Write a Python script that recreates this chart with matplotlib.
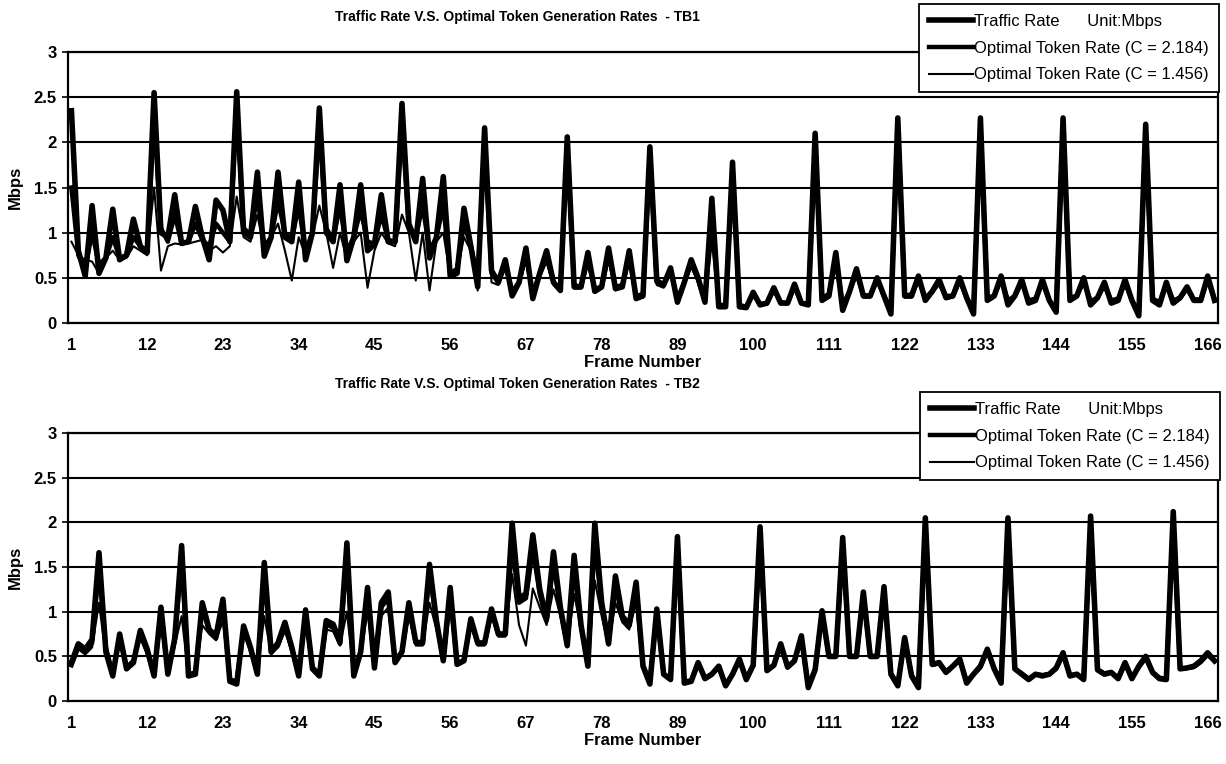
import matplotlib
matplotlib.use("Agg")
import matplotlib.pyplot as plt
import numpy as np

W, H = 1226, 764

frame_ticks = [1, 12, 23, 34, 45, 56, 67, 78, 89, 100, 111, 122, 133, 144, 155, 166]
y_ticks = [0, 0.5, 1, 1.5, 2, 2.5, 3]
y_tick_labels = ["0", "0.5", "1", "1.5", "2", "2.5", "3"]
series_labels = ["Traffic Rate      Unit:Mbps",
                 "Optimal Token Rate (C = 2.184)",
                 "Optimal Token Rate (C = 1.456)"]

# TB1 -- frames 1..167
tb1_traffic = [
    2.35, 0.80, 0.52, 1.30, 0.55, 0.72, 1.26, 0.70, 0.75, 1.15, 0.85, 0.78,
    2.55, 1.00, 0.95, 1.42, 0.88, 0.90, 1.29, 0.95, 0.70, 1.36, 1.25, 0.90,
    2.56, 1.00, 0.95, 1.67, 0.74, 0.95, 1.67, 0.95, 0.90, 1.56, 0.70, 1.00,
    2.38, 1.00, 0.90, 1.53, 0.69, 0.95, 1.53, 0.80, 0.87, 1.42, 0.90, 0.90,
    2.43, 1.10, 0.90, 1.60, 0.72, 0.95, 1.62, 0.52, 0.55, 1.27, 0.85, 0.40,
    2.16, 0.58, 0.45, 0.70, 0.30, 0.45, 0.83, 0.27, 0.55, 0.80, 0.45, 0.36,
    2.06, 0.40, 0.40, 0.78, 0.35, 0.40, 0.83, 0.38, 0.40, 0.80, 0.27, 0.30,
    1.95, 0.47, 0.42, 0.61, 0.23, 0.45, 0.70, 0.50, 0.23, 1.38, 0.18, 0.18,
    1.78, 0.18, 0.17, 0.34, 0.20, 0.22, 0.39, 0.22, 0.22, 0.43, 0.22, 0.20,
    2.10, 0.25, 0.30, 0.78, 0.14, 0.35, 0.60, 0.30, 0.30, 0.50, 0.30, 0.10,
    2.27, 0.30, 0.30, 0.52, 0.25, 0.35, 0.48, 0.28, 0.30, 0.50, 0.28, 0.10,
    2.27, 0.25, 0.30, 0.52, 0.20, 0.30, 0.48, 0.22, 0.25, 0.48, 0.25, 0.12,
    2.27, 0.25, 0.30, 0.50, 0.20, 0.28, 0.45, 0.22, 0.25, 0.48, 0.25, 0.08,
    2.20, 0.25, 0.20, 0.45, 0.22, 0.28, 0.40, 0.25, 0.25, 0.52, 0.25,
]
tb1_token_hi = [
    1.50, 0.75, 0.60, 1.00, 0.65, 0.72, 0.95, 0.72, 0.75, 0.95, 0.85, 0.80,
    2.30, 1.05, 0.90, 1.20, 0.88, 0.90, 1.10, 0.92, 0.85, 1.10, 1.00, 0.90,
    2.40, 1.05, 0.98, 1.40, 0.85, 0.95, 1.35, 1.00, 0.92, 1.30, 0.80, 1.00,
    2.20, 1.05, 0.92, 1.30, 0.80, 0.95, 1.25, 0.90, 0.88, 1.20, 0.92, 0.90,
    2.20, 1.05, 0.95, 1.30, 0.80, 0.95, 1.30, 0.55, 0.60, 1.10, 0.85, 0.50,
    2.00, 0.55, 0.48, 0.65, 0.35, 0.45, 0.75, 0.32, 0.55, 0.72, 0.45, 0.38,
    1.95, 0.42, 0.40, 0.70, 0.38, 0.40, 0.75, 0.40, 0.42, 0.72, 0.30, 0.32,
    1.85, 0.45, 0.42, 0.58, 0.26, 0.45, 0.66, 0.48, 0.25, 1.30, 0.20, 0.20,
    1.70, 0.20, 0.18, 0.32, 0.21, 0.22, 0.37, 0.23, 0.22, 0.40, 0.22, 0.21,
    2.00, 0.28, 0.32, 0.70, 0.20, 0.35, 0.55, 0.30, 0.30, 0.48, 0.30, 0.15,
    2.15, 0.30, 0.32, 0.48, 0.28, 0.35, 0.45, 0.30, 0.30, 0.47, 0.28, 0.15,
    2.15, 0.28, 0.30, 0.48, 0.25, 0.30, 0.45, 0.25, 0.27, 0.45, 0.25, 0.16,
    2.15, 0.28, 0.30, 0.46, 0.24, 0.28, 0.42, 0.25, 0.27, 0.45, 0.25, 0.12,
    2.10, 0.27, 0.23, 0.42, 0.25, 0.28, 0.38, 0.26, 0.26, 0.48, 0.26,
]
tb1_token_lo = [
    0.90, 0.75, 0.70, 0.68, 0.55, 0.72, 0.80, 0.70, 0.72, 0.85, 0.80, 0.75,
    1.50, 0.58, 0.85, 0.88, 0.87, 0.88, 0.90, 0.92, 0.80, 0.85, 0.78, 0.85,
    1.40, 0.95, 0.90, 1.20, 0.80, 0.95, 1.10, 0.80, 0.47, 0.95, 0.75, 0.95,
    1.30, 1.00, 0.61, 1.00, 0.70, 0.90, 1.00, 0.39, 0.80, 1.00, 0.88, 0.85,
    1.20, 1.00, 0.47, 1.00, 0.36, 0.90, 1.00, 0.52, 0.55, 0.95, 0.80, 0.36,
    1.80, 0.45, 0.42, 0.60, 0.33, 0.42, 0.70, 0.27, 0.50, 0.68, 0.42, 0.36,
    1.80, 0.38, 0.38, 0.65, 0.35, 0.38, 0.70, 0.36, 0.40, 0.68, 0.27, 0.28,
    1.70, 0.42, 0.39, 0.55, 0.23, 0.43, 0.62, 0.45, 0.23, 0.90, 0.18, 0.18,
    1.60, 0.18, 0.17, 0.30, 0.20, 0.21, 0.35, 0.22, 0.21, 0.38, 0.21, 0.20,
    1.90, 0.25, 0.28, 0.65, 0.14, 0.33, 0.52, 0.28, 0.28, 0.45, 0.28, 0.10,
    2.00, 0.28, 0.28, 0.45, 0.25, 0.33, 0.42, 0.27, 0.28, 0.44, 0.26, 0.10,
    2.00, 0.25, 0.28, 0.45, 0.20, 0.28, 0.42, 0.22, 0.25, 0.43, 0.24, 0.12,
    2.00, 0.25, 0.28, 0.44, 0.20, 0.26, 0.40, 0.22, 0.25, 0.42, 0.24, 0.08,
    1.95, 0.24, 0.20, 0.40, 0.22, 0.26, 0.36, 0.24, 0.24, 0.45, 0.24,
]

# TB2 -- frames 1..167
tb2_traffic = [
    0.43, 0.64, 0.58, 0.69, 1.66, 0.55, 0.28, 0.75, 0.36, 0.43, 0.79, 0.58,
    0.28, 1.05, 0.30, 0.70, 1.74, 0.28, 0.30, 1.10, 0.80, 0.73, 1.14, 0.22,
    0.19, 0.84, 0.60, 0.30, 1.55, 0.55, 0.65, 0.88, 0.60, 0.28, 1.02, 0.36,
    0.28, 0.90, 0.86, 0.66, 1.77, 0.28, 0.55, 1.27, 0.37, 1.10, 1.22, 0.43,
    0.55, 1.10, 0.66, 0.65, 1.53, 0.90, 0.45, 1.27, 0.41, 0.45, 0.92, 0.65,
    0.65, 1.03, 0.75, 0.75, 1.99, 1.15, 1.20, 1.86, 1.25, 0.92, 1.67, 1.05,
    0.62, 1.63, 0.85, 0.39, 1.99, 1.10, 0.64, 1.40, 0.95, 0.85, 1.33, 0.39,
    0.19, 1.03, 0.30, 0.24, 1.84, 0.20, 0.22, 0.43, 0.25, 0.30, 0.39, 0.17,
    0.30, 0.47, 0.24, 0.40, 1.95, 0.34, 0.40, 0.64, 0.38, 0.45, 0.73, 0.15,
    0.35, 1.01, 0.50, 0.50, 1.83, 0.50, 0.50, 1.22, 0.50, 0.50, 1.28, 0.30,
    0.17, 0.71, 0.28, 0.15, 2.05, 0.41, 0.43, 0.32, 0.39, 0.47, 0.20, 0.30,
    0.39, 0.58, 0.36, 0.20, 2.05, 0.36, 0.30, 0.24, 0.30, 0.28, 0.30, 0.37,
    0.54, 0.28, 0.30, 0.24, 2.07, 0.35, 0.30, 0.32, 0.25, 0.43, 0.25, 0.39,
    0.50, 0.32, 0.25, 0.24, 2.12, 0.36, 0.37, 0.39, 0.45, 0.54, 0.45,
]
tb2_token_hi = [
    0.40, 0.60, 0.55, 0.65, 1.50, 0.60, 0.30, 0.72, 0.38, 0.45, 0.75, 0.55,
    0.30, 1.00, 0.32, 0.68, 1.60, 0.30, 0.32, 1.05, 0.78, 0.70, 1.08, 0.24,
    0.22, 0.80, 0.58, 0.32, 1.45, 0.55, 0.62, 0.85, 0.58, 0.30, 0.98, 0.38,
    0.30, 0.86, 0.82, 0.64, 1.65, 0.30, 0.55, 1.20, 0.40, 1.05, 1.15, 0.45,
    0.55, 1.05, 0.65, 0.64, 1.45, 0.88, 0.46, 1.20, 0.42, 0.46, 0.90, 0.64,
    0.64, 1.00, 0.74, 0.74, 1.75, 1.10, 1.15, 1.70, 1.20, 0.90, 1.55, 1.02,
    0.62, 1.50, 0.84, 0.40, 1.80, 1.05, 0.65, 1.30, 0.92, 0.84, 1.25, 0.40,
    0.22, 1.00, 0.30, 0.26, 1.75, 0.22, 0.23, 0.42, 0.26, 0.30, 0.38, 0.18,
    0.30, 0.45, 0.25, 0.40, 1.85, 0.35, 0.40, 0.62, 0.38, 0.45, 0.70, 0.17,
    0.36, 0.98, 0.50, 0.50, 1.75, 0.50, 0.50, 1.18, 0.50, 0.50, 1.22, 0.31,
    0.19, 0.68, 0.29, 0.17, 1.95, 0.41, 0.42, 0.33, 0.39, 0.46, 0.22, 0.30,
    0.38, 0.56, 0.36, 0.22, 1.95, 0.36, 0.31, 0.25, 0.30, 0.29, 0.30, 0.36,
    0.52, 0.29, 0.30, 0.25, 1.98, 0.35, 0.31, 0.32, 0.26, 0.42, 0.26, 0.38,
    0.48, 0.32, 0.26, 0.25, 2.02, 0.36, 0.37, 0.38, 0.44, 0.52, 0.45,
]
tb2_token_lo = [
    0.40, 0.58, 0.52, 0.60, 1.10, 0.50, 0.28, 0.65, 0.36, 0.42, 0.70, 0.52,
    0.28, 0.85, 0.30, 0.62, 0.95, 0.28, 0.30, 0.85, 0.75, 0.68, 0.90, 0.22,
    0.19, 0.75, 0.56, 0.30, 0.95, 0.52, 0.60, 0.78, 0.56, 0.28, 0.85, 0.36,
    0.28, 0.80, 0.78, 0.62, 1.00, 0.28, 0.52, 1.00, 0.37, 0.95, 1.05, 0.43,
    0.52, 0.95, 0.62, 0.62, 1.10, 0.80, 0.45, 1.05, 0.41, 0.45, 0.85, 0.62,
    0.62, 0.95, 0.72, 0.72, 1.42, 0.85, 0.62, 1.26, 1.05, 0.85, 1.25, 0.95,
    0.60, 1.20, 0.80, 0.39, 1.35, 0.95, 0.62, 1.10, 0.88, 0.80, 1.10, 0.38,
    0.19, 0.95, 0.30, 0.24, 1.45, 0.20, 0.22, 0.40, 0.25, 0.28, 0.36, 0.17,
    0.28, 0.44, 0.24, 0.38, 1.55, 0.33, 0.38, 0.60, 0.36, 0.43, 0.68, 0.15,
    0.34, 0.95, 0.48, 0.48, 1.50, 0.48, 0.48, 1.10, 0.48, 0.48, 1.15, 0.30,
    0.17, 0.66, 0.28, 0.15, 1.60, 0.39, 0.41, 0.32, 0.37, 0.44, 0.20, 0.28,
    0.36, 0.55, 0.34, 0.20, 1.60, 0.34, 0.30, 0.24, 0.29, 0.28, 0.29, 0.35,
    0.50, 0.28, 0.29, 0.24, 1.60, 0.33, 0.30, 0.31, 0.25, 0.41, 0.25, 0.37,
    0.47, 0.31, 0.25, 0.24, 1.65, 0.35, 0.36, 0.37, 0.42, 0.50, 0.43,
]

FONT = ["Liberation Sans", "DejaVu Sans"]


def draw_panel(fig, rect, traffic, tok_hi, tok_lo, title, title_xy, legend_anchor):
    ax = fig.add_axes(rect)
    x = np.arange(1, len(traffic) + 1)
    ax.plot(x, traffic, color="black", lw=4.0, label=series_labels[0], zorder=3)
    ax.plot(x, tok_hi, color="black", lw=3.2, label=series_labels[1], zorder=4)
    ax.plot(x, tok_lo, color="black", lw=1.5, label=series_labels[2], zorder=5)

    ax.set_xlim(0.5, len(traffic) + 0.5)
    ax.set_ylim(0, 3)
    ax.set_yticks(y_ticks)
    ax.set_yticklabels(y_tick_labels, family=FONT, weight="bold", fontsize=12)
    ax.set_xticks(frame_ticks)
    ax.set_xticklabels([str(f) for f in frame_ticks], family=FONT, weight="bold", fontsize=12)
    ax.tick_params(axis="x", length=0, pad=11)
    ax.tick_params(axis="y", length=4, width=1.2, pad=4)
    ax.grid(axis="y", color="black", lw=1.5)
    ax.set_axisbelow(True)
    for s in ax.spines.values():
        s.set_linewidth(1.6)
    ax.set_ylabel("Mbps", family=FONT, weight="bold", fontsize=12)
    ax.yaxis.set_label_coords(-0.039, 0.5)
    ax.set_xlabel("Frame Number", family=FONT, weight="bold", fontsize=12, labelpad=1)

    fig.text(title_xy[0] / W, 1 - title_xy[1] / H, title, ha="center", va="center",
             family=FONT, weight="bold", fontsize=10)

    leg = ax.legend(loc="upper right", bbox_to_anchor=(legend_anchor[0] / W, 1 - legend_anchor[1] / H),
                    bbox_transform=fig.transFigure, fancybox=False, framealpha=1,
                    edgecolor="black", borderaxespad=0, handlelength=2.6, handletextpad=0.1,
                    labelspacing=0.7, borderpad=0.6,
                    prop={"family": FONT, "size": 12})
    leg.get_frame().set_linewidth(1.3)
    leg.set_zorder(10)
    return ax


fig = plt.figure(figsize=(W / 100, H / 100), dpi=100)
draw_panel(fig, [68 / W, 1 - 323 / H, 1150 / W, 271 / H],
           tb1_traffic, tb1_token_hi, tb1_token_lo,
           "Traffic Rate V.S. Optimal Token Generation Rates  - TB1", (517, 17), (1219, 4))
draw_panel(fig, [68 / W, 1 - 701 / H, 1150 / W, 268 / H],
           tb2_traffic, tb2_token_hi, tb2_token_lo,
           "Traffic Rate V.S. Optimal Token Generation Rates  - TB2", (517, 384), (1220, 392))

fig.savefig("out.png", dpi=100, facecolor="white")
plt.close(fig)
